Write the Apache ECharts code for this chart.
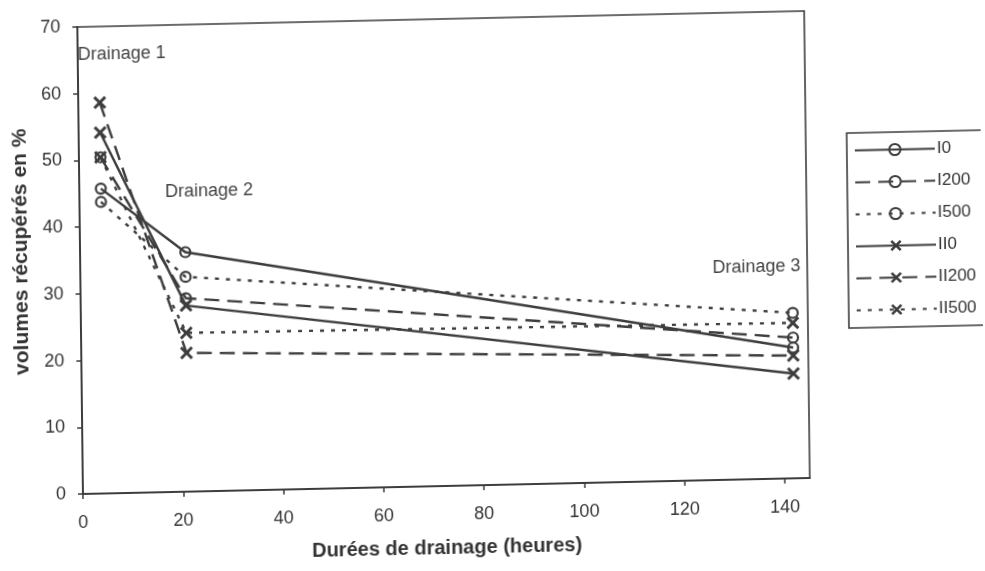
<!DOCTYPE html>
<html><head><meta charset="utf-8">
<script src="https://cdn.jsdelivr.net/npm/echarts@6/dist/echarts.min.js"></script>
<style>
html,body{margin:0;padding:0;background:#fff;overflow:hidden}
#c{width:985px;height:571px;transform-origin:83px 497px;transform:matrix(1,-0.022,0.012,1,0,0)}
</style>
</head><body><div id="c"></div>
<script>
// ---- data ----
const durations = [4.3, 21, 142];
const I0    = [45.7, 35.9, 19.6];
const I200  = [50.4, 29.0, 21.1];
const I500  = [43.7, 32.2, 24.8];
const II0   = [54.1, 27.9, 15.7];
const II200 = [58.6, 20.8, 18.4];
const II500 = [50.4, 23.8, 23.3];
const seriesNames = ['I0', 'I200', 'I500', 'II0', 'II200', 'II500'];
const seriesValues = [I0, I200, I500, II0, II200, II500];
const annotations = [
  {text: 'Drainage 1', x: 0, y: 65.8},
  {text: 'Drainage 2', x: 17.1, y: 45.0},
  {text: 'Drainage 3', x: 126.1, y: 31.7}
];
const xTitle = 'Durées de drainage (heures)';
const yTitle = 'volumes récupérés en %';

// ---- styles ----
const INK = '#3d3d3d';
const FONT = '"Liberation Sans", Arial, Helvetica, sans-serif';
const lineTypes = ['solid', [15, 8], [4, 7], 'solid', [15, 8], [4, 7]];
const CROSS = 'path://M0,1.6L1.6,0L5,3.4L8.4,0L10,1.6L6.6,5L10,8.4L8.4,10L5,6.6L1.6,10L0,8.4L3.4,5Z';

const series = seriesNames.map((name, i) => {
  const isCircle = i < 3;
  return {
    name: name,
    type: 'line',
    data: durations.map((d, k) => [d, seriesValues[i][k]]),
    symbol: isCircle ? 'circle' : CROSS,
    symbolSize: isCircle ? 10 : 13,
    showAllSymbol: true,
    lineStyle: {color: INK, width: 2.4, type: lineTypes[i]},
    itemStyle: isCircle
      ? {color: 'rgba(255,255,255,0)', borderColor: INK, borderWidth: 2.2}
      : {color: INK, borderWidth: 0},
    emphasis: {disabled: true},
    z: 3
  };
});

const chart = echarts.init(document.getElementById('c'), null, {renderer: 'canvas'});
chart.setOption({
  backgroundColor: '#fff',
  animation: false,
  grid: {left: 83, top: 27, width: 727, height: 470, show: true,
         borderColor: INK, borderWidth: 1.6, backgroundColor: 'rgba(0,0,0,0)'},
  xAxis: {
    type: 'value', min: 0, max: 145, interval: 20,
    name: xTitle, nameLocation: 'middle', nameGap: 52,
    nameTextStyle: {fontFamily: FONT, fontSize: 20, fontWeight: 'bold', color: '#333'},
    axisLine: {show: true, onZero: false, lineStyle: {color: INK, width: 2}},
    axisTick: {show: true, length: 5, lineStyle: {color: INK, width: 1.5}},
    axisLabel: {showMaxLabel: false, margin: 20, fontFamily: FONT, fontSize: 18, color: '#333'},
    splitLine: {show: false}
  },
  yAxis: {
    type: 'value', min: 0, max: 70, interval: 10,
    name: yTitle, nameLocation: 'middle', nameGap: 48,
    nameTextStyle: {fontFamily: FONT, fontSize: 21, fontWeight: 'bold', color: '#333', padding: [0, 0, 0, 20]},
    axisLine: {show: true, onZero: false, lineStyle: {color: INK, width: 2}},
    axisTick: {show: true, length: 5, lineStyle: {color: INK, width: 1.5}},
    axisLabel: {margin: 17, fontFamily: FONT, fontSize: 18, color: '#333'},
    splitLine: {show: false}
  },
  legend: {
    orient: 'vertical', left: 851, top: 150,
    padding: [9, 24, 9, 7],
    itemWidth: 80, itemHeight: 14, itemGap: 15,
    borderColor: INK, borderWidth: 1.6,
    backgroundColor: '#fff',
    selectedMode: false,
    textStyle: {fontFamily: FONT, fontSize: 17, color: '#333', padding: [0, 0, 0, -3]},
    data: seriesNames
  },
  series: series
});

chart.setOption({
  graphic: annotations.map(a => {
    const p = chart.convertToPixel({gridIndex: 0}, [a.x, a.y]);
    return {
      type: 'text', x: p[0], y: p[1], z: 1,
      style: {text: a.text, fontFamily: FONT, fontSize: 18, fill: '#444', verticalAlign: 'middle', align: 'left'}
    };
  })
});
</script>
</body></html>
